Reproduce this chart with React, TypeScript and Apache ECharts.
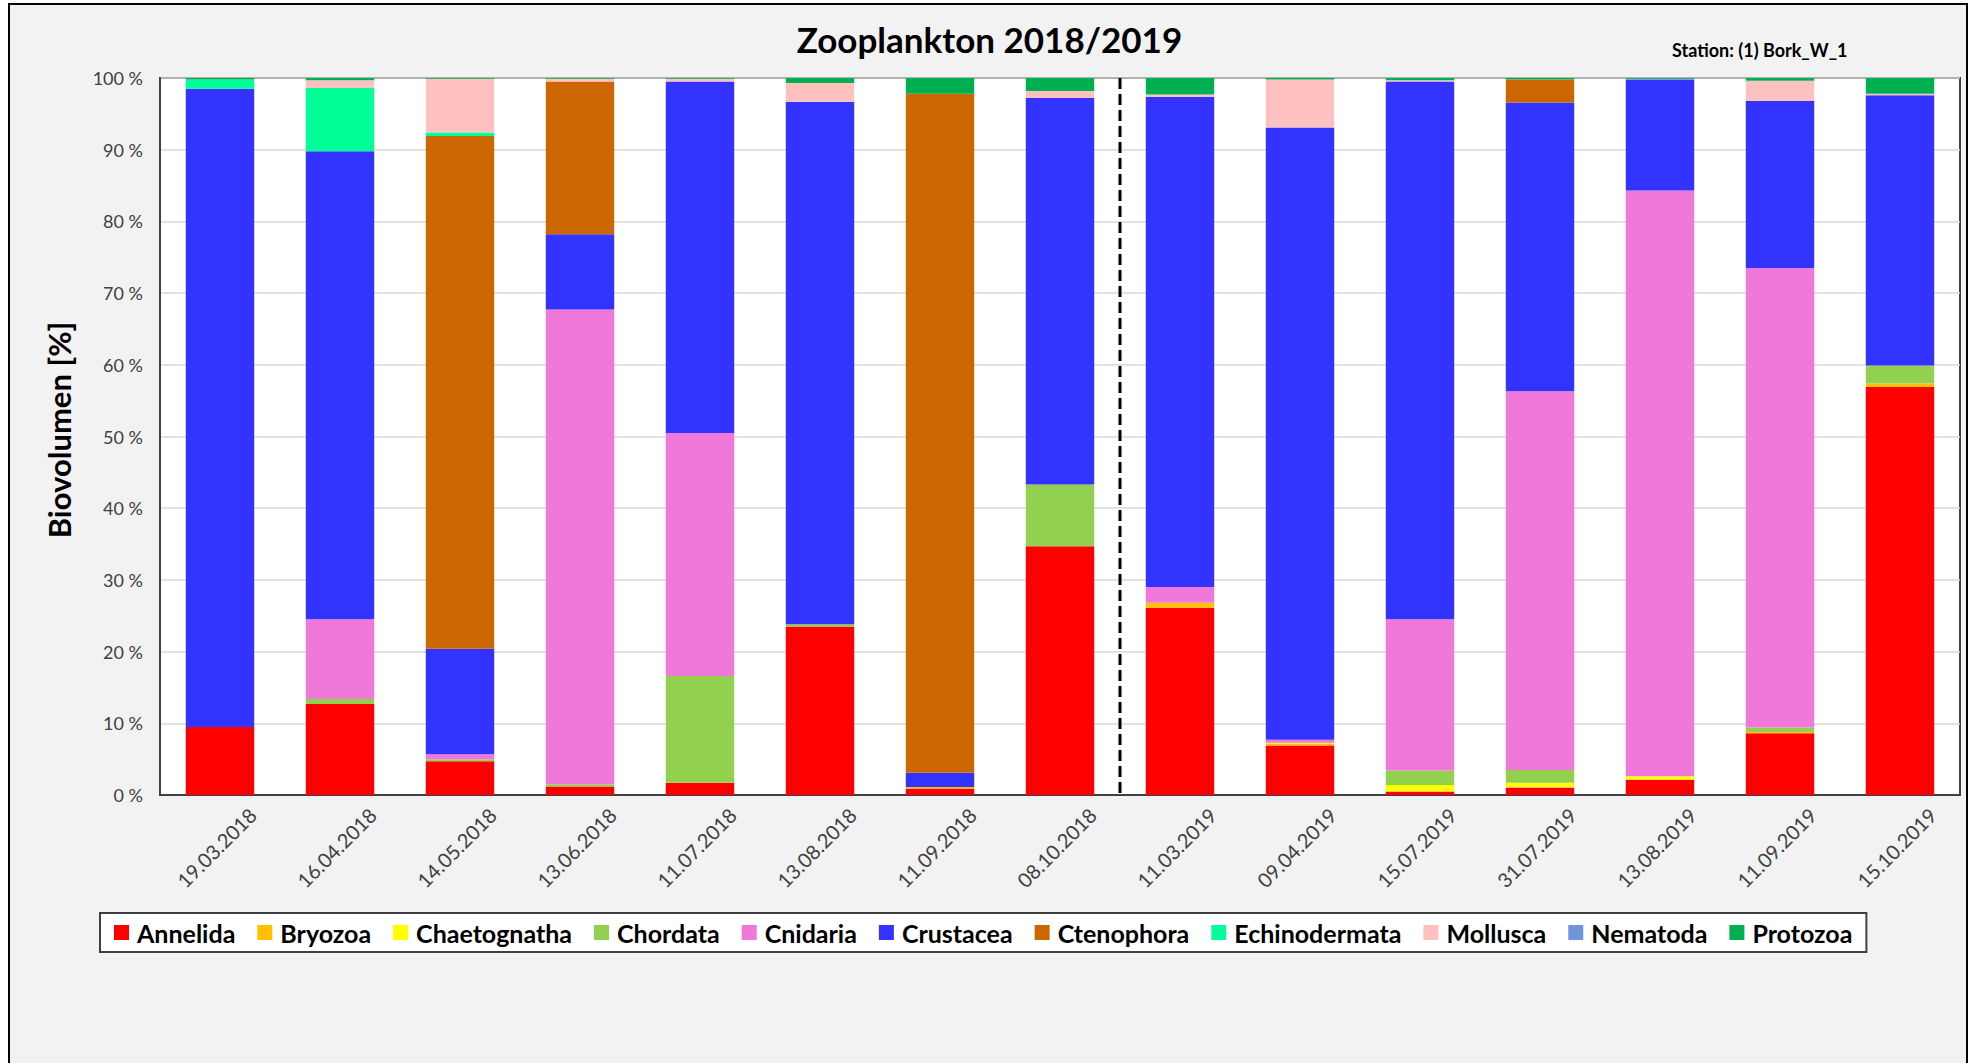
import React, { useEffect, useRef } from "react";
import * as echarts from "echarts";

const categories = [
  "19.03.2018", "16.04.2018", "14.05.2018", "13.06.2018", "11.07.2018",
  "13.08.2018", "11.09.2018", "08.10.2018", "11.03.2019", "09.04.2019",
  "15.07.2019", "31.07.2019", "13.08.2019", "11.09.2019", "15.10.2019",
];

const annelida = [9.5, 12.7, 4.7, 1.2, 1.7, 23.5, 0.9, 34.7, 26.1, 6.9, 0.5, 1.0, 2.1, 8.6, 56.9];
const bryozoa = [0, 0, 0, 0, 0, 0, 0.2, 0, 0.7, 0.3, 0, 0.2, 0.1, 0.2, 0.5];
const chaetognatha = [0, 0, 0, 0, 0, 0, 0, 0, 0, 0.1, 0.9, 0.5, 0.4, 0, 0];
const chordata = [0, 0.7, 0.3, 0.3, 14.9, 0.3, 0, 8.6, 0, 0, 2.0, 1.8, 0, 0.6, 2.5];
const cnidaria = [0, 11.1, 0.7, 66.2, 33.9, 0, 0, 0, 2.2, 0.4, 21.1, 52.8, 81.7, 64.1, 0];
const crustacea = [89.0, 65.3, 14.7, 10.5, 49.0, 72.9, 2.0, 53.9, 68.4, 85.4, 75.0, 40.3, 15.5, 23.3, 37.7];
const ctenophora = [0, 0, 71.5, 21.3, 0, 0, 94.7, 0, 0, 0, 0, 3.2, 0, 0, 0];
const echinodermata = [1.3, 8.8, 0.5, 0, 0, 0, 0, 0, 0, 0, 0, 0, 0, 0, 0];
const mollusca = [0, 1.1, 7.5, 0.4, 0.4, 2.6, 0, 1.0, 0.3, 6.7, 0.2, 0, 0, 2.8, 0.2];
const nematoda = [0, 0, 0, 0, 0, 0, 0, 0, 0, 0, 0, 0, 0.1, 0, 0];
const protozoa = [0.2, 0.3, 0.1, 0.1, 0.1, 0.7, 2.2, 1.8, 2.3, 0.2, 0.3, 0.2, 0.1, 0.4, 2.2];

const seriesNames = [
  "Annelida", "Bryozoa", "Chaetognatha", "Chordata", "Cnidaria", "Crustacea",
  "Ctenophora", "Echinodermata", "Mollusca", "Nematoda", "Protozoa",
];
const seriesValues = [
  annelida, bryozoa, chaetognatha, chordata, cnidaria, crustacea,
  ctenophora, echinodermata, mollusca, nematoda, protozoa,
];
const seriesColors = [
  "#FF0000", "#FFC000", "#FFFF00", "#92D050", "#F078DA", "#3333FF",
  "#CC6600", "#00FF99", "#FFC0C0", "#6E96D8", "#00B050",
];

const FONT = "Lato, 'Open Sans', sans-serif";

export default function App() {
  const ref = useRef<HTMLDivElement>(null);

  useEffect(() => {
    if (!ref.current) return;
    const chart = echarts.init(ref.current, null, { renderer: "svg" });
    const option: any = {
      animation: false,
      backgroundColor: "transparent",
      textStyle: { fontFamily: FONT },
      title: [
        {
          text: "Zooplankton 2018/2019",
          left: "center",
          top: 19,
          padding: 0,
          textStyle: { fontFamily: FONT, fontWeight: "bold", fontSize: 35, color: "#000", lineHeight: 40 },
        },
        {
          text: "Station: (1) Bork_W_1",
          left: 1672,
          top: 39,
          padding: 0,
          textStyle: { fontFamily: FONT, fontWeight: "bold", fontSize: 18, color: "#000", lineHeight: 22 },
        },
      ],
      grid: {
        left: 160,
        right: 19,
        top: 78,
        bottom: 268,
        show: true,
        backgroundColor: "#FFFFFF",
        borderColor: "#404040",
        borderWidth: 2,
      },
      legend: {
        left: 100,
        top: 913,
        orient: "horizontal",
        icon: "rect",
        itemWidth: 15,
        itemHeight: 15,
        itemGap: 22,
        padding: [7, 14, 7, 14],
        backgroundColor: "#FFFFFF",
        borderColor: "#404040",
        borderWidth: 2,
        selectedMode: false,
        textStyle: { fontFamily: FONT, fontWeight: "bold", fontSize: 25, color: "#000", padding: [0, 0, 0, 3] },
        data: seriesNames,
      },
      xAxis: {
        type: "category",
        data: categories,
        axisLine: { show: true, lineStyle: { color: "#404040", width: 2 } },
        axisTick: { show: false },
        axisLabel: {
          rotate: 45,
          align: "center",
          verticalAlign: "middle",
          margin: 49,
          interval: 0,
          padding: [0, 10, 0, 0],
          fontFamily: FONT,
          fontSize: 20,
          color: "#404040",
        },
      },
      yAxis: {
        type: "value",
        min: 0,
        max: 100,
        interval: 10,
        axisLine: { show: true, lineStyle: { color: "#404040", width: 2 } },
        axisTick: { show: false },
        axisLabel: {
          formatter: "{value} %",
          margin: 17,
          fontFamily: FONT,
          fontSize: 18,
          color: "#404040",
        },
        splitLine: { show: true, lineStyle: { color: "#D9D9D9", width: 1.5 } },
      },
      series: seriesNames.map((name, i) => ({
        name,
        type: "bar",
        stack: "total",
        barWidth: "57%",
        data: seriesValues[i],
        itemStyle: { color: seriesColors[i] },
        emphasis: { disabled: true },
      })),
      graphic: [
        {
          type: "text",
          x: 59,
          y: 430,
          rotation: Math.PI / 2,
          style: {
            text: "Biovolumen [%]",
            fontFamily: FONT,
            fontWeight: "bold",
            fontSize: 31,
            fill: "#000",
            align: "center",
            verticalAlign: "middle",
          },
        },
      ],
    };
    chart.setOption(option);

    const xa = chart.convertToPixel({ xAxisIndex: 0 }, 7) as number;
    const xb = chart.convertToPixel({ xAxisIndex: 0 }, 8) as number;
    const yTop = chart.convertToPixel({ yAxisIndex: 0 }, 100) as number;
    const yBot = chart.convertToPixel({ yAxisIndex: 0 }, 0) as number;
    const xm = (xa + xb) / 2;
    chart.setOption({
      graphic: [
        option.graphic[0],
        {
          type: "line",
          z: 100,
          shape: { x1: xm, y1: yTop, x2: xm, y2: yBot },
          style: { stroke: "#000", lineWidth: 3, lineDash: [11, 5] },
        },
      ],
    });

    return () => chart.dispose();
  }, []);

  return (
    <div style={{ position: "fixed", left: 0, top: 0, width: 1979, height: 1063, background: "#FFFFFF", overflow: "hidden" }}>
      <div
        style={{
          position: "absolute",
          left: 8,
          top: 3,
          width: 1960,
          height: 1120,
          border: "2px solid #000",
          background: "#F2F2F2",
          boxSizing: "border-box",
        }}
      />
      <div ref={ref} style={{ position: "absolute", left: 0, top: 0, width: 1979, height: 1063 }} />
    </div>
  );
}
